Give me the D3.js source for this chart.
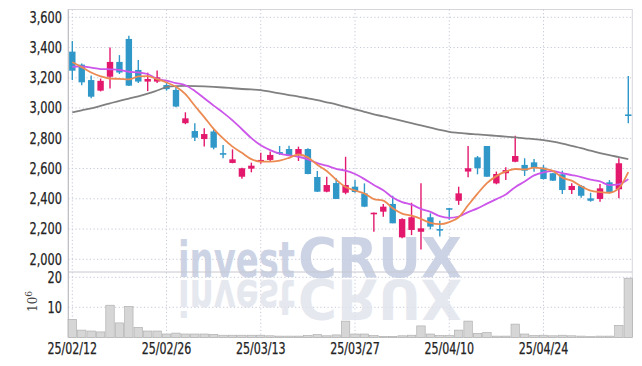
<!DOCTYPE html>
<html><head><meta charset="utf-8">
<script src="https://cdn.jsdelivr.net/npm/d3@7"></script>
<style>body{margin:0;background:#fff;} svg{display:block;}</style>
</head><body><svg id="c" width="642" height="366"></svg>
<script>
const dates = ["2025-02-12","2025-02-13","2025-02-14","2025-02-17","2025-02-18","2025-02-19","2025-02-20","2025-02-21","2025-02-24","2025-02-25",
"2025-02-26","2025-02-27","2025-02-28","2025-03-04","2025-03-05","2025-03-06","2025-03-07","2025-03-10","2025-03-11","2025-03-12",
"2025-03-13","2025-03-14","2025-03-17","2025-03-18","2025-03-19","2025-03-20","2025-03-21","2025-03-24","2025-03-25","2025-03-26",
"2025-03-27","2025-03-28","2025-03-31","2025-04-01","2025-04-02","2025-04-03","2025-04-04","2025-04-07","2025-04-08","2025-04-09",
"2025-04-10","2025-04-11","2025-04-14","2025-04-15","2025-04-16","2025-04-17","2025-04-18","2025-04-21","2025-04-22","2025-04-23",
"2025-04-24","2025-04-25","2025-04-28","2025-04-29","2025-04-30","2025-05-02","2025-05-07","2025-05-08","2025-05-09","2025-05-12"];
const open = [3373,3287,3185,3115,3207,3305,3457,3252,3175,3175,3152,3120,2900,2848,2795,2845,2702,2637,2546,2599,
2645,2657,2709,2729,2696,2729,2544,2447,2504,2440,2480,2436,2298,2315,2366,2145,2194,2182,2278,2200,
2338,2387,2580,2674,2749,2502,2569,2645,2624,2641,2606,2569,2562,2458,2485,2403,2399,2509,2463,2958];
const high = [3443,3295,3215,3195,3400,3350,3478,3318,3234,3248,3165,3140,2972,2899,2866,2858,2756,2727,2605,2639,
2705,2712,2749,2751,2745,2735,2584,2546,2536,2678,2524,2502,2310,2366,2420,2272,2374,2502,2304,2255,
2340,2480,2749,2683,2749,2580,2608,2817,2668,2663,2624,2572,2586,2502,2491,2440,2498,2524,2668,3212];
const low = [3185,3150,3065,3110,3130,3225,3145,3165,3112,3165,3115,3005,2893,2782,2745,2727,2668,2635,2533,2575,
2632,2650,2690,2683,2650,2562,2445,2444,2399,2430,2440,2345,2182,2282,2238,2140,2160,2065,2198,2150,
2262,2360,2542,2562,2546,2496,2524,2641,2551,2579,2528,2518,2432,2432,2407,2381,2381,2436,2403,2900];
const close = [3247,3170,3075,3180,3305,3235,3148,3175,3192,3203,3125,3010,2932,2804,2828,2738,2692,2661,2602,2619,
2657,2690,2697,2690,2729,2564,2447,2491,2399,2491,2445,2348,2308,2348,2238,2266,2278,2205,2216,2196,
2335,2436,2602,2602,2546,2564,2590,2683,2586,2606,2531,2520,2458,2485,2420,2387,2469,2440,2635,2952];
const volume = [6.0,2.4,2.1,1.8,10.7,4.8,10.3,3.3,2.1,2.1,1.1,1.4,1.1,1.1,1.1,1.0,0.7,0.7,0.7,0.7,
0.7,0.5,0.4,0.4,0.4,0.6,0.9,0.5,0.8,5.4,1.1,1.1,0.6,0.3,0.3,0.5,0.7,3.8,1.1,0.6,
0.6,2.4,5.4,1.3,1.6,0.4,0.4,4.4,1.1,0.6,0.7,0.5,0.7,0.5,0.4,0.2,0.4,0.4,4.0,19.7];
const ma5 = [3303,3270,3235,3210,3195,3193,3189,3209,3211,3191,3169,3141,3092,3015,2940,2862,2799,2745,2704,2662,
2646,2646,2653,2671,2693,2674,2625,2584,2526,2478,2455,2435,2398,2388,2337,2302,2288,2267,2241,2232,
2246,2278,2357,2434,2504,2550,2581,2597,2594,2606,2599,2585,2540,2520,2483,2454,2444,2440,2470,2577];
const ma10 = [3273,3276,3267,3258,3256,3252,3240,3236,3225,3193,3181,3165,3151,3113,3065,3016,2970,2919,2860,2801,
2754,2722,2699,2687,2678,2660,2636,2619,2598,2586,2564,2530,2491,2457,2408,2378,2361,2333,2314,2285,
2274,2283,2312,2337,2368,2398,2429,2477,2514,2555,2575,2583,2569,2557,2544,2527,2515,2490,2495,2530];
const ma60 = [2972,2985,2998,3014,3031,3048,3063,3077,3095,3116,3138,3145,3146,3145,3143,3140,3136,3131,3126,3123,
3119,3108,3097,3086,3076,3064,3052,3038,3024,3008,2992,2975,2958,2945,2930,2915,2900,2885,2870,2855,
2843,2836,2830,2826,2821,2816,2811,2806,2800,2795,2788,2778,2765,2750,2735,2718,2702,2688,2676,2663];
const priceTicks = [2000,2200,2400,2600,2800,3000,3200,3400,3600];
const volTicks = [10,20];
const dateTicks = ["2025-02-12","2025-02-26","2025-03-13","2025-03-27","2025-04-10","2025-04-24"];

const svg = d3.select("#c");
const L = 68.3, R = 632.3, T = 9.5, MB = 272, VB = 337.3;
const x = d3.scaleBand().domain(dates).range([67.6, 633]).padding(0);
const step = x.step();
const cx = d => x(d) + step / 2;
const y = d3.scaleLinear().domain([2000, 3600]).range([259.3, 17.3]);
const yv = d3.scaleLinear().domain([0, 20]).range([VB, 277.3]);
const fmt = d3.format(",");
const dfmt = d3.timeFormat("%y/%m/%d");
const parse = d3.timeParse("%Y-%m-%d");
const UP = "#e3196d", DOWN = "#2f98c9";
const gridC = "#c4c8d8";
const font = "'DejaVu Sans Condensed','DejaVu Sans',sans-serif";

svg.append("rect").attr("x", L).attr("y", T).attr("width", R - L).attr("height", VB - T)
  .attr("fill", "none").attr("stroke", "#d6d6dc").attr("stroke-width", 1);

svg.append("g").selectAll("line").data(priceTicks).join("line")
  .attr("x1", L).attr("x2", R).attr("y1", d => y(d)).attr("y2", d => y(d))
  .attr("stroke", gridC).attr("stroke-dasharray", "1.2,2.4");
svg.append("g").selectAll("line").data(volTicks).join("line")
  .attr("x1", L).attr("x2", R).attr("y1", d => yv(d)).attr("y2", d => yv(d))
  .attr("stroke", gridC).attr("stroke-dasharray", "1.2,2.4");
svg.append("g").selectAll("line").data(dateTicks).join("line")
  .attr("x1", d => cx(d)).attr("x2", d => cx(d)).attr("y1", T).attr("y2", VB)
  .attr("stroke", gridC).attr("stroke-dasharray", "1.2,2.4");

// watermark
function wmText(g, yy, fill, op, flip) {
  const t = g.append("text").attr("y", yy)
    .attr("font-family", "'DejaVu Sans',sans-serif").attr("font-weight", "bold")
    .attr("fill", fill).attr("opacity", op);
  if (flip) t.attr("transform", "scale(1,-1)");
  t.append("tspan").attr("x", 178).attr("font-size", 50).attr("textLength", 117).attr("lengthAdjust", "spacingAndGlyphs").text("invest");
  t.append("tspan").attr("x", 298).attr("font-size", 56).attr("textLength", 164).attr("lengthAdjust", "spacingAndGlyphs").text("CRUX");
}
const wm = svg.append("g");
wmText(wm, 277, "#c4cce0", 0.85, false);
wmText(wm, -280, "#e0e3ec", 0.8, true);

svg.append("line").attr("x1", L).attr("x2", R).attr("y1", MB).attr("y2", MB).attr("stroke", "#c8c8d0");
svg.append("line").attr("x1", L).attr("x2", L).attr("y1", T).attr("y2", VB).attr("stroke", "#b8b8c0");

svg.append("g").selectAll("rect").data(dates).join("rect")
  .attr("x", d => x(d) + 0.5).attr("width", step - 1)
  .attr("y", (d, i) => yv(volume[i])).attr("height", (d, i) => VB - yv(volume[i]))
  .attr("fill", "#d6d6d6").attr("stroke", "#a9a9a9").attr("stroke-width", 0.6);

const cg = svg.append("g");
const bw = step * 0.68;
cg.selectAll("line").data(dates).join("line")
  .attr("x1", d => cx(d)).attr("x2", d => cx(d))
  .attr("y1", (d, i) => y(high[i])).attr("y2", (d, i) => y(low[i]))
  .attr("stroke", (d, i) => close[i] >= open[i] ? UP : DOWN).attr("stroke-width", 1.4);
cg.selectAll("rect").data(dates).join("rect")
  .attr("x", d => cx(d) - bw / 2).attr("width", bw)
  .attr("y", (d, i) => y(Math.max(open[i], close[i])))
  .attr("height", (d, i) => Math.max(1.6, Math.abs(y(open[i]) - y(close[i]))))
  .attr("fill", (d, i) => close[i] >= open[i] ? UP : DOWN);

const lineGen = arr => d3.line().x((d, i) => cx(dates[i])).y(d => y(d)).curve(d3.curveMonotoneX)(arr);
svg.append("path").attr("d", lineGen(ma60)).attr("fill", "none").attr("stroke", "#808080").attr("stroke-width", 1.8);
svg.append("path").attr("d", lineGen(ma10)).attr("fill", "none").attr("stroke", "#cc55ea").attr("stroke-width", 1.8);
svg.append("path").attr("d", lineGen(ma5)).attr("fill", "none").attr("stroke", "#ec8a52").attr("stroke-width", 1.8);

function squeeze(sel, k) {
  sel.each(function() {
    const w = this.getComputedTextLength();
    d3.select(this).attr("textLength", w * k).attr("lengthAdjust", "spacingAndGlyphs");
  });
}
const pl = svg.append("g").selectAll("text").data(priceTicks).join("text")
  .attr("x", 62).attr("y", d => y(d)).attr("dy", "0.36em").attr("text-anchor", "end")
  .attr("font-family", font).attr("font-size", 15).attr("fill", "#222").attr("stroke", "#222").attr("stroke-width", 0.25).text(d => fmt(d));
squeeze(pl, 0.84);
const vl = svg.append("g").selectAll("text").data(volTicks).join("text")
  .attr("x", 62).attr("y", d => yv(d)).attr("dy", "0.36em").attr("text-anchor", "end")
  .attr("font-family", font).attr("font-size", 15).attr("fill", "#222").attr("stroke", "#222").attr("stroke-width", 0.25).text(d => d);
squeeze(vl, 0.84);
const xl = svg.append("g").selectAll("text").data(dateTicks).join("text")
  .attr("x", d => cx(d)).attr("y", 349).attr("dy", "0.36em").attr("text-anchor", "middle")
  .attr("font-family", font).attr("font-size", 15).attr("fill", "#222").attr("stroke", "#222").attr("stroke-width", 0.25).text(d => dfmt(parse(d)));
squeeze(xl, 0.82);
const u = svg.append("text").attr("transform", "translate(37,312) rotate(-90)")
  .attr("font-family", "'DejaVu Serif',serif").attr("font-size", 12).attr("fill", "#444");
u.append("tspan").text("10");
u.append("tspan").attr("dy", -5).attr("font-size", 9).text("6");
</script></body></html>
